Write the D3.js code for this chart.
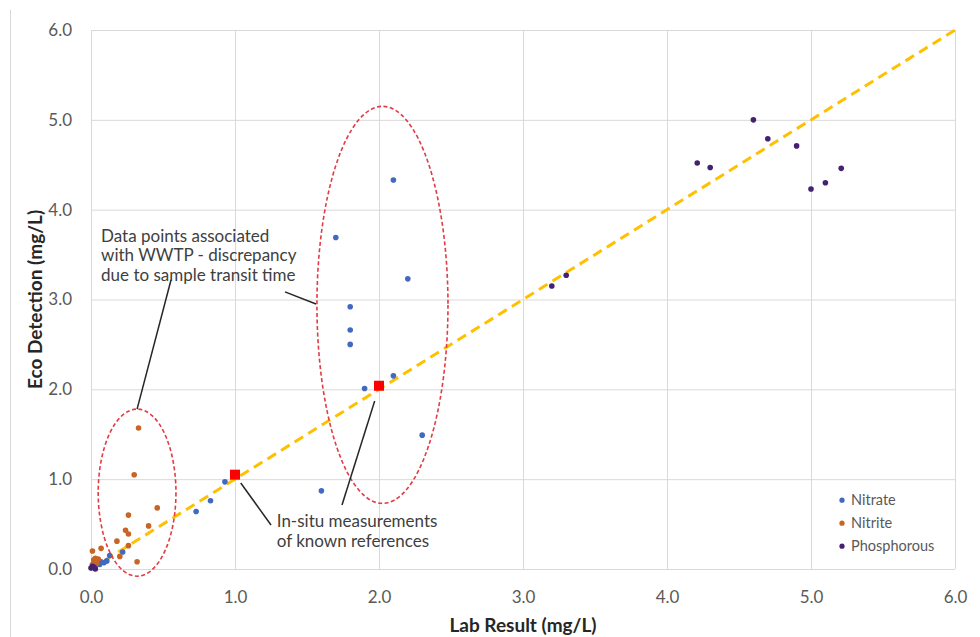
<!DOCTYPE html>
<html>
<head>
<meta charset="utf-8">
<script src="https://cdn.jsdelivr.net/npm/d3@7"></script>
<style>
  body { margin: 0; background: #fff; }
  svg { display: block; font-family: Lato, "Open Sans", sans-serif; }
</style>
</head>
<body>
<div id="chart"></div>
<script>
// --- data: [lab result, eco detection] in mg/L
const nitrate = [
  [2.10, 4.33], [1.70, 3.69], [2.20, 3.23], [1.80, 2.92], [1.80, 2.66],
  [1.80, 2.50], [2.10, 2.15], [1.90, 2.01], [2.30, 1.49], [1.60, 0.87],
  [0.93, 0.97], [0.83, 0.76], [0.73, 0.64], [0.22, 0.19], [0.13, 0.15],
  [0.11, 0.09], [0.09, 0.07], [0.06, 0.05], [0.04, 0.06], [0.02, 0.10],
  [0.03, 0.03], [0.07, 0.08]
];
const nitrite = [
  [0.33, 1.57], [0.30, 1.05], [0.46, 0.68], [0.26, 0.60], [0.40, 0.48],
  [0.24, 0.43], [0.26, 0.39], [0.18, 0.31], [0.26, 0.26], [0.20, 0.14],
  [0.32, 0.08], [0.07, 0.23], [0.01, 0.20], [0.02, 0.10], [0.03, 0.08],
  [0.04, 0.06], [0.01, 0.05], [0.05, 0.11], [0.03, 0.12]
];
const phosphorous = [
  [4.60, 5.00], [4.70, 4.79], [4.90, 4.71], [4.21, 4.52], [4.30, 4.47],
  [5.00, 4.23], [5.10, 4.30], [5.21, 4.46], [3.20, 3.15], [3.30, 3.27],
  [0.00, 0.01], [0.01, 0.03], [0.03, 0.00], [0.02, 0.02]
];
const inSitu = [[1.0, 1.05], [2.0, 2.04]];
const oneToOne = [[0, 0], [6, 6]];

const xTicks = [0, 1, 2, 3, 4, 5, 6];
const yTicks = [0, 1, 2, 3, 4, 5, 6];

const seriesNames = ["Nitrate", "Nitrite", "Phosphorous"];
const seriesColors = ["#4169c0", "#c86425", "#45226f"];

// annotation shapes, in data units
const ellipses = [
  { cx: 0.32, cy: 0.85, rx: 0.27, ry: 0.93 },
  { cx: 2.024, cy: 2.94, rx: 0.455, ry: 2.21 }
];
const leaders = [
  [[0.556, 3.22], [0.32, 1.78]],
  [[1.347, 3.085], [1.5625, 2.95]],
  [[1.04, 0.958], [1.25, 0.49]],
  [[1.97, 1.87], [1.743, 0.713]]
];
const notes = [
  { x: 0.07, y: 3.645, lines: ["Data points associated", "with WWTP - discrepancy", "due to sample transit time"] },
  { x: 1.29, y: 0.464, lines: ["In-situ measurements", "of known references"] }
];

const width = 980, height = 637;
const margin = { top: 30, right: 25, bottom: 68, left: 91 };
const innerW = width - margin.left - margin.right;
const innerH = height - margin.top - margin.bottom;

const svg = d3.select("#chart").append("svg")
  .attr("width", width).attr("height", height);

// chart frame edge on the left
svg.append("line")
  .attr("x1", 10.5).attr("x2", 10.5).attr("y1", 10).attr("y2", height)
  .attr("stroke", "#d9d9d9");

const g = svg.append("g").attr("transform", `translate(${margin.left},${margin.top})`);

const x = d3.scaleLinear().domain([0, 6]).range([0, innerW]);
const y = d3.scaleLinear().domain([0, 6]).range([innerH, 0]);
const fmt = d3.format(".1f");

// gridlines + tick labels
const xAxis = g.append("g")
  .attr("transform", `translate(0,${innerH})`)
  .call(d3.axisBottom(x).tickValues(xTicks).tickFormat(fmt).tickSize(-innerH).tickPadding(22));
const yAxis = g.append("g")
  .call(d3.axisLeft(y).tickValues(yTicks).tickFormat(fmt).tickSize(-innerW).tickPadding(19));

[xAxis, yAxis].forEach((ax) => {
  ax.select(".domain").remove();
  ax.selectAll(".tick line").attr("stroke", "#d9d9d9");
  ax.selectAll(".tick text")
    .attr("fill", "#595959")
    .style("font-size", "17px")
    .style("font-family", "Lato, sans-serif");
});

// 1:1 dashed line
const line = d3.line().x((d) => x(d[0])).y((d) => y(d[1]));
g.append("path")
  .datum(oneToOne)
  .attr("d", line)
  .attr("fill", "none")
  .attr("stroke", "#ffc000")
  .attr("stroke-width", 3)
  .attr("stroke-dasharray", "10 6");

// scatter series
[nitrate, nitrite, phosphorous].forEach((pts, i) => {
  g.append("g")
    .selectAll("circle")
    .data(pts)
    .join("circle")
    .attr("cx", (d) => x(d[0]))
    .attr("cy", (d) => y(d[1]))
    .attr("r", 2.8)
    .attr("fill", seriesColors[i]);
});

// in-situ reference squares
const sq = 10;
g.append("g")
  .selectAll("rect")
  .data(inSitu)
  .join("rect")
  .attr("x", (d) => x(d[0]) - sq / 2)
  .attr("y", (d) => y(d[1]) - sq / 2)
  .attr("width", sq).attr("height", sq)
  .attr("fill", "#ff0000");

// dashed ellipses
g.append("g")
  .selectAll("ellipse")
  .data(ellipses)
  .join("ellipse")
  .attr("cx", (d) => x(d.cx))
  .attr("cy", (d) => y(d.cy))
  .attr("rx", (d) => x(d.rx) - x(0))
  .attr("ry", (d) => y(0) - y(d.ry))
  .attr("fill", "none")
  .attr("stroke", "#e03c46")
  .attr("stroke-width", 1.6)
  .attr("stroke-dasharray", "4 2.5");

// leader lines
g.append("g")
  .selectAll("path")
  .data(leaders)
  .join("path")
  .attr("d", line)
  .attr("stroke", "#262626")
  .attr("stroke-width", 1.5)
  .attr("fill", "none");

// callout texts
notes.forEach((n) => {
  const t = g.append("text")
    .attr("x", x(n.x))
    .attr("y", y(n.y))
    .attr("fill", "#404040")
    .style("font-size", "17px");
  n.lines.forEach((s, i) => {
    t.append("tspan").attr("x", x(n.x)).attr("dy", i === 0 ? 0 : 19.5).text(s);
  });
});

// legend
const legend = g.append("g").attr("transform", `translate(${x(5) + 31},${y(1) + 21})`);
seriesNames.forEach((name, i) => {
  const row = legend.append("g").attr("transform", `translate(0,${i * 23})`);
  row.append("circle").attr("r", 2.6).attr("fill", seriesColors[i]);
  row.append("text")
    .attr("x", 9).attr("dy", "0.35em")
    .attr("fill", "#595959")
    .style("font-size", "14.5px")
    .text(name);
});

// axis titles
svg.append("text")
  .attr("x", margin.left + innerW / 2)
  .attr("y", 632)
  .attr("text-anchor", "middle")
  .attr("fill", "#262626")
  .style("font-size", "19px")
  .style("font-weight", "bold")
  .text("Lab Result (mg/L)");

svg.append("text")
  .attr("transform", `translate(42,${margin.top + innerH / 2}) rotate(-90)`)
  .attr("text-anchor", "middle")
  .attr("fill", "#262626")
  .style("font-size", "19px")
  .style("font-weight", "bold")
  .text("Eco Detection (mg/L)");
</script>
</body>
</html>
